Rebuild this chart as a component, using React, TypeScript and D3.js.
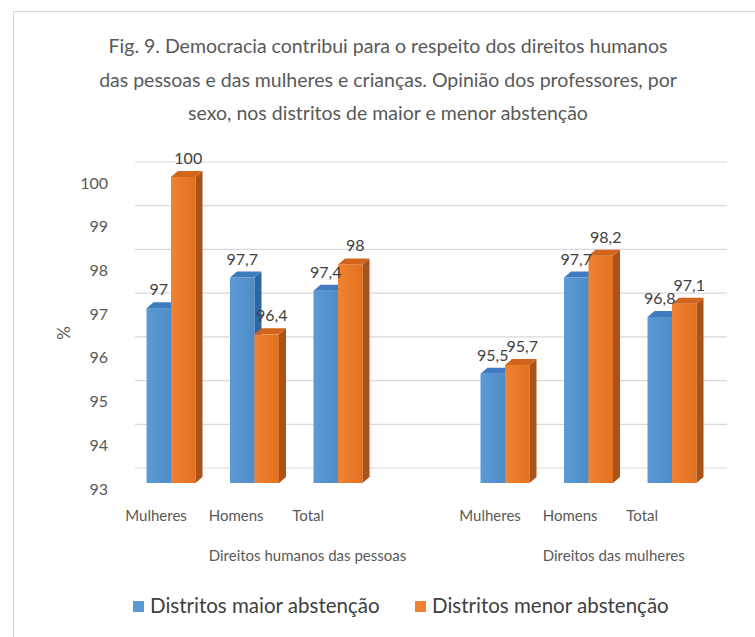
import * as d3 from 'd3';

const title = [
  'Fig. 9. Democracia contribui para o respeito dos direitos humanos',
  'das pessoas e das mulheres e crianças. Opinião dos professores, por',
  'sexo, nos distritos de maior e menor abstenção',
];
const groups = ['Direitos humanos das pessoas', 'Direitos das mulheres'];
const categories = ['Mulheres', 'Homens', 'Total'];
const maiorValues = [97, 97.7, 97.4, 95.5, 97.7, 96.8];
const menorValues = [100, 96.4, 98, 95.7, 98.2, 97.1];
const seriesNames = ['Distritos maior abstenção', 'Distritos menor abstenção'];
const yTicks = [93, 94, 95, 96, 97, 98, 99, 100];

const W = 755;
const H = 637;
const FONT = 'Lato, "Open Sans", sans-serif';
const TXT = '#595959';

// one slot per category, with an empty slot between the two groups
const slots = groups.flatMap((g, gi) => {
  const s = categories.map((c) => `${gi}-${c}`);
  return gi < groups.length - 1 ? [...s, `gap-${gi}`] : s;
});

const colors = {
  blue: { front: '#5b9bd5', frontDark: '#4e8cc8', top: '#3f7cbf', side: '#2e67a6' },
  orange: { front: '#f08232', frontDark: '#e3711f', top: '#d2641b', side: '#a9521a' },
};

const fmt = (v: number) => String(v).replace('.', ',');

export default function App() {
  const x = d3.scaleBand<string>().domain(slots).range([129.25, 713.75]).padding(0);
  const yBar = d3.scaleLinear().domain([93, 100]).range([483, 177]);
  const pairW = 49;
  const barW = pairW / 2;
  const dx = 7;
  const dy = -6;
  const wallDy = -15;

  const bars = groups.flatMap((_, gi) =>
    categories.map((c, ci) => {
      const i = gi * categories.length + ci;
      const slot = `${gi}-${c}`;
      const left = (x(slot) ?? 0) + (x.bandwidth() - pairW) / 2;
      return { slot, left, maior: maiorValues[i], menor: menorValues[i] };
    })
  );

  const bar3d = (x0: number, v: number, c: typeof colors.blue, key: string) => {
    const yt = yBar(v);
    const yb = yBar(93);
    const x1 = x0 + barW;
    return (
      <g key={key}>
        <rect x={x0} y={yt} width={barW} height={yb - yt} fill={`url(#grad-${c === colors.blue ? 'b' : 'o'})`} />
        <polygon
          points={`${x1},${yt} ${x1 + dx},${yt + dy} ${x1 + dx},${yb + dy} ${x1},${yb}`}
          fill={c.side}
        />
        <polygon
          points={`${x0},${yt} ${x0 + dx},${yt + dy} ${x1 + dx},${yt + dy} ${x1},${yt}`}
          fill={c.top}
        />
      </g>
    );
  };

  return (
    <svg width={W} height={H} style={{ display: 'block', position: 'absolute', left: 0, top: 0 }}>
      <defs>
        <linearGradient id="grad-b" x1="0" x2="1" y1="0" y2="0">
          <stop offset="0" stopColor={colors.blue.front} />
          <stop offset="1" stopColor={colors.blue.frontDark} />
        </linearGradient>
        <linearGradient id="grad-o" x1="0" x2="1" y1="0" y2="0">
          <stop offset="0" stopColor={colors.orange.front} />
          <stop offset="1" stopColor={colors.orange.frontDark} />
        </linearGradient>
      </defs>
      <rect x={0} y={0} width={W} height={H} fill="#fff" />
      <rect x={13.5} y={11.5} width={W + 20} height={H + 20} fill="#fff" stroke="#d4d4d4" />

      {/* title */}
      {title.map((t, i) => (
        <text
          key={i}
          x={388}
          y={53 + i * 33.5}
          textAnchor="middle"
          fontFamily={FONT}
          fontSize={19.5}
          fill={TXT}
        >
          {t}
        </text>
      ))}

      {/* back-wall gridlines */}
      {yTicks.map((v) => (
        <line
          key={`g-${v}`}
          x1={135}
          x2={727}
          y1={yBar(v) + wallDy}
          y2={yBar(v) + wallDy}
          stroke="#d9d9d9"
          strokeWidth={1.2}
        />
      ))}

      {/* y tick labels */}
      {yTicks.map((v) => (
        <text
          key={`t-${v}`}
          x={108}
          y={yBar(v) + 6}
          dy="0.35em"
          textAnchor="end"
          fontFamily={FONT}
          fontSize={16}
          fill={TXT}
        >
          {v}
        </text>
      ))}

      <text
        transform={`translate(70, 333) rotate(-90)`}
        textAnchor="middle"
        fontFamily={FONT}
        fontSize={17}
        fill={TXT}
      >
        %
      </text>

      {/* bars */}
      {bars.map((b) => (
        <g key={b.slot}>
          {bar3d(b.left, b.maior, colors.blue, 'b')}
          {bar3d(b.left + barW, b.menor, colors.orange, 'o')}
        </g>
      ))}

      {/* data labels */}
      {bars.map((b) => (
        <g key={`l-${b.slot}`} fontFamily={FONT} fontSize={16} fill="#404040" textAnchor="middle">
          <text x={b.left + barW / 2} y={yBar(b.maior) - 13}>
            {fmt(b.maior)}
          </text>
          <text x={b.left + barW * 1.5 + 5} y={yBar(b.menor) - 13}>
            {fmt(b.menor)}
          </text>
        </g>
      ))}

      {/* category labels */}
      {groups.flatMap((_, gi) =>
        categories.map((c) => (
          <text
            key={`c-${gi}-${c}`}
            x={(x(`${gi}-${c}`) ?? 0) - 4}
            y={521}
            fontFamily={FONT}
            fontSize={15}
            fill={TXT}
          >
            {c}
          </text>
        ))
      )}

      {/* group labels */}
      {groups.map((g, gi) => (
        <text
          key={`grp-${g}`}
          x={(x(`${gi}-${categories[1]}`) ?? 0) - 4}
          y={561}
          fontFamily={FONT}
          fontSize={15}
          fill={TXT}
        >
          {g}
        </text>
      ))}

      {/* legend */}
      {seriesNames.map((s, i) => {
        const lx = i === 0 ? 133 : 415;
        return (
          <g key={s}>
            <rect x={lx} y={601} width={11} height={11} fill={i === 0 ? colors.blue.front : colors.orange.front} />
            <text x={lx + 17} y={613} fontFamily={FONT} fontSize={20.5} fill="#404040">
              {s}
            </text>
          </g>
        );
      })}
    </svg>
  );
}
